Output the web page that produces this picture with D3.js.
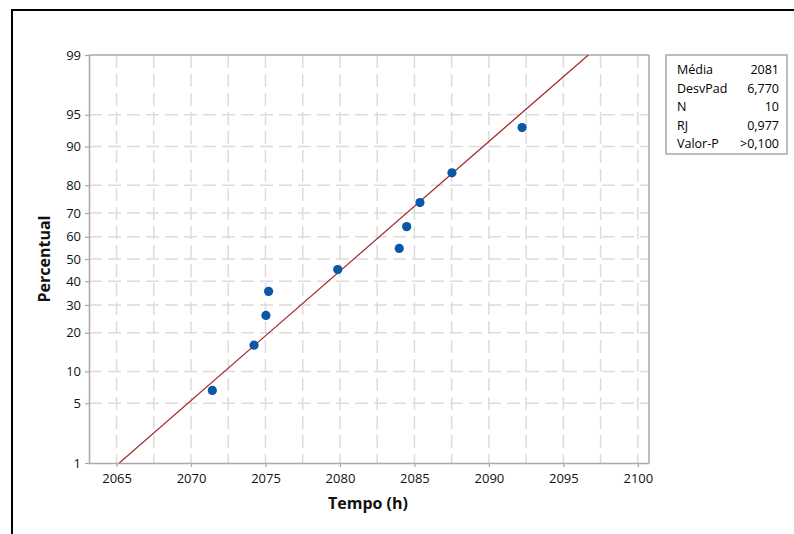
<!DOCTYPE html>
<html><head><meta charset="utf-8">
<script src="https://cdn.jsdelivr.net/npm/d3@7"></script>
<style>
html,body{margin:0;padding:0;background:#fff;}
svg text{font-family:"Open Sans","Noto Sans",sans-serif;}
</style></head>
<body><svg id="c" width="794" height="534"></svg>
<script>
// ---- data ----
const tempo = [2071.43, 2074.23, 2075.03, 2075.21, 2079.85, 2083.98, 2084.48, 2085.37, 2087.52, 2092.23];
const percentual = [6.7, 16.3, 26.0, 35.6, 45.2, 54.8, 64.4, 74.0, 83.7, 93.3];
const fitMean = 2080.93;
const fitSd = 6.770;
const xTicks = [2065, 2070, 2075, 2080, 2085, 2090, 2095, 2100];
const xGrid = [2065, 2067.5, 2070, 2072.5, 2075, 2077.5, 2080, 2082.5, 2085, 2087.5, 2090, 2092.5, 2095, 2097.5, 2100];
const yTicks = [1, 5, 10, 20, 30, 40, 50, 60, 70, 80, 90, 95, 99];
const statLabels = ["Média", "DesvPad", "N", "RJ", "Valor-P"];
const statValues = ["2081", "6,770", "10", "0,977", ">0,100"];

// inverse normal CDF (Acklam)
function qnorm(p){
  const a=[-3.969683028665376e+01,2.209460984245205e+02,-2.759285104469687e+02,1.383577518672690e+02,-3.066479806614716e+01,2.506628277459239e+00];
  const b=[-5.447609879822406e+01,1.615858368580409e+02,-1.556989798598866e+02,6.680131188771972e+01,-1.328068155288572e+01];
  const c=[-7.784894002430293e-03,-3.223964580411365e-01,-2.400758277161838e+00,-2.549732539343734e+00,4.374664141464968e+00,2.938163982698783e+00];
  const d=[7.784695709041462e-03,3.224671290700398e-01,2.445134137142996e+00,3.754408661907416e+00];
  const pl=0.02425, ph=1-pl; let q,r;
  if(p<pl){q=Math.sqrt(-2*Math.log(p));return (((((c[0]*q+c[1])*q+c[2])*q+c[3])*q+c[4])*q+c[5])/((((d[0]*q+d[1])*q+d[2])*q+d[3])*q+1);}
  if(p<=ph){q=p-0.5;r=q*q;return (((((a[0]*r+a[1])*r+a[2])*r+a[3])*r+a[4])*r+a[5])*q/(((((b[0]*r+b[1])*r+b[2])*r+b[3])*r+b[4])*r+1);}
  q=Math.sqrt(-2*Math.log(1-p));return -(((((c[0]*q+c[1])*q+c[2])*q+c[3])*q+c[4])*q+c[5])/((((d[0]*q+d[1])*q+d[2])*q+d[3])*q+1);
}

const svg = d3.select("#c");
const L=89, R=649, T=55, B=463;
const x = d3.scaleLinear().domain([2063.15, 2100.75]).range([L, R]);
const zs = d3.scaleLinear().domain([qnorm(0.01), qnorm(0.99)]).range([B, T]);
const y = p => zs(qnorm(p/100));

// outer frame
svg.append("rect").attr("x",12).attr("y",10).attr("width",900).attr("height",700)
  .attr("fill","none").attr("stroke","#000").attr("stroke-width",2);

// grid
const grid = svg.append("g");
grid.selectAll("line.v").data(xGrid).join("line")
  .attr("x1",d=>x(d)).attr("x2",d=>x(d)).attr("y1",T).attr("y2",B)
  .attr("stroke","#dcdcdc").attr("stroke-width",1.5).attr("stroke-dasharray","13,6");
grid.selectAll("line.h").data(yTicks.filter(d=>d!==1&&d!==99)).join("line")
  .attr("x1",L).attr("x2",R).attr("y1",d=>y(d)).attr("y2",d=>y(d))
  .attr("stroke","#dcdcdc").attr("stroke-width",1.5).attr("stroke-dasharray","13,6");

// axes
const xAxis = d3.axisBottom(x).tickValues(xTicks).tickSize(4).tickSizeOuter(0).tickFormat(d3.format("d"));
const gx = svg.append("g").attr("transform",`translate(0,${B})`).call(xAxis);
const yAxis = d3.axisLeft(zs).tickValues(yTicks.map(d=>qnorm(d/100))).tickSize(4).tickSizeOuter(0)
  .tickFormat((d,i)=>yTicks[i]);
const gy = svg.append("g").attr("transform",`translate(${L},0)`).call(yAxis);
[gx,gy].forEach(g=>{
  g.select(".domain").attr("stroke","#a8a8a8").attr("stroke-width",1.5);
  g.selectAll(".tick line").attr("stroke","#a8a8a8").attr("stroke-width",1.2);
  g.selectAll(".tick text").attr("fill","#111").attr("font-size","13px")
   .attr("font-family","'Open Sans','Noto Sans',sans-serif");
});
gx.selectAll(".tick text").attr("dy","1.0em");
gy.selectAll(".tick text").attr("dx","-1");
// top & right borders
svg.append("line").attr("x1",L).attr("x2",R).attr("y1",T).attr("y2",T).attr("stroke","#a8a8a8").attr("stroke-width",1.5);
svg.append("line").attr("x1",R).attr("x2",R).attr("y1",T).attr("y2",B).attr("stroke","#a8a8a8").attr("stroke-width",1.5);

// fit line
const pLo = 1, pHi = 99;
svg.append("line")
  .attr("x1",x(fitMean+qnorm(pLo/100)*fitSd)).attr("y1",y(pLo))
  .attr("x2",x(fitMean+qnorm(pHi/100)*fitSd)).attr("y2",y(pHi))
  .attr("stroke","#a82828").attr("stroke-width",1.2);

// points
svg.append("g").selectAll("circle").data(tempo).join("circle")
  .attr("cx",d=>x(d)).attr("cy",(d,i)=>y(percentual[i])).attr("r",4.6)
  .attr("fill","#0a57a8");

// axis titles
svg.append("text").attr("x",(L+R)/2-1).attr("y",509).attr("text-anchor","middle")
  .attr("font-size","16px").attr("font-weight","bold").attr("fill","#111").text("Tempo (h)");
svg.append("text").attr("transform",`translate(50,${(T+B)/2}) rotate(-90)`).attr("text-anchor","middle")
  .attr("font-size","16px").attr("font-weight","bold").attr("fill","#111").text("Percentual");

// stats box
const bx=666, by=55, bw=121, bh=99;
svg.append("rect").attr("x",bx).attr("y",by).attr("width",bw).attr("height",bh)
  .attr("fill","#fff").attr("stroke","#a8a8a8").attr("stroke-width",1.5);
const rows = svg.append("g");
statLabels.forEach((lab,i)=>{
  const ry = 70 + i*18.5;
  rows.append("text").attr("x",677).attr("y",ry).attr("dy","0.35em").attr("font-size","12.5px").attr("fill","#000").text(lab);
  rows.append("text").attr("x",779).attr("y",ry).attr("dy","0.35em").attr("text-anchor","end").attr("font-size","12.5px").attr("fill","#000").text(statValues[i]);
});
</script></body></html>
